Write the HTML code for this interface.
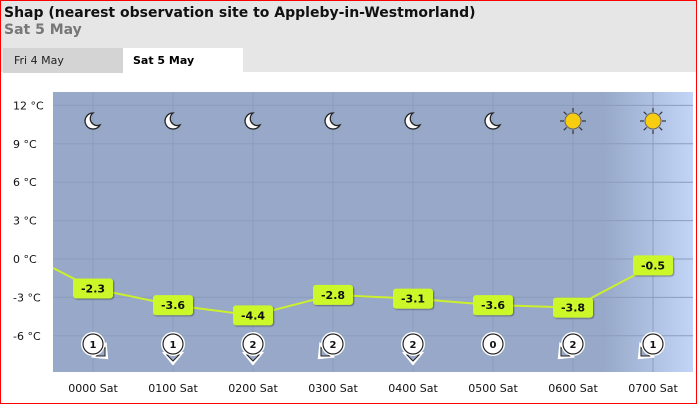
<!DOCTYPE html>
<html><head><meta charset="utf-8"><style>
body{margin:0;width:697px;height:404px;overflow:hidden;font-family:"Liberation Sans","DejaVu Sans",sans-serif;}
#wrap{position:absolute;left:0;top:0;width:695px;height:402px;border:1px solid #f00;background:#fff;}
#head{position:absolute;left:0;top:0;width:695px;height:71px;background:#e6e6e6;}
.t1{position:absolute;left:3px;top:4px;font-size:14px;font-weight:bold;color:#111;font-family:"DejaVu Sans",sans-serif;}
.t2{position:absolute;left:3px;top:21px;font-size:14px;font-weight:bold;color:#777;font-family:"DejaVu Sans",sans-serif;}
.tab{position:absolute;top:47px;height:25px;font-size:11px;line-height:25px;font-family:"DejaVu Sans",sans-serif;}
</style></head><body>
<div id="wrap">
<div id="head">
<div class="t1">Shap (nearest observation site to Appleby-in-Westmorland)</div>
<div class="t2">Sat 5 May</div>
<div class="tab" style="left:2px;width:120px;background:#d4d4d4;color:#222;"><span style="padding-left:11px">Fri 4 May</span></div>
<div class="tab" style="left:122px;width:120px;background:#fff;color:#000;font-weight:bold;"><span style="padding-left:10px">Sat 5 May</span></div>
</div>
<svg id="chart" width="697" height="404" style="position:absolute;left:-1px;top:-1px"></svg>
</div>
<script>
const hours=["0000 Sat","0100 Sat","0200 Sat","0300 Sat","0400 Sat","0500 Sat","0600 Sat","0700 Sat"];
const temps=[-2.3,-3.6,-4.4,-2.8,-3.1,-3.6,-3.8,-0.5];
const startTemp=-0.7;
const windSpeeds=[1,1,2,2,2,0,2,1];
const windDirs=[-45,0,0,45,0,null,45,45];
const icons=["moon","moon","moon","moon","moon","moon","sun","sun"];
const yTicks=[12,9,6,3,0,-3,-6];

const NS="http://www.w3.org/2000/svg";
const svg=document.getElementById('chart');
const L=53,R=693,T=92,B=372;
const x=i=>93+i*80;
const y=v=>259-v*12.8;
function mk(tag,attrs,parent){const e=document.createElementNS(NS,tag);for(const k in attrs)e.setAttribute(k,attrs[k]);(parent||svg).appendChild(e);return e;}
const defs=mk('defs',{});
defs.innerHTML='<linearGradient id="bg" x1="0" x2="1" y1="0" y2="0"><stop offset="0" stop-color="#97a8c8"/><stop offset="0.86" stop-color="#97a8c8"/><stop offset="1" stop-color="#c2d5f8"/></linearGradient><filter id="sh"><feDropShadow dx="1" dy="1" stdDeviation="0.8" flood-opacity="0.4"/></filter>';
const bg=mk('rect',{x:L,y:T,width:R-L,height:B-T,fill:'url(#bg)'});


yTicks.forEach(t=>{
  const g=mk('line',{x1:L,x2:R,y1:y(t),y2:y(t),stroke:'#8c9cbc','stroke-width':1});
  
  
  const tx=mk('text',{x:13,y:y(t)+4,'font-size':11,fill:'#111','font-family':'DejaVu Sans,sans-serif'});
  tx.textContent=t+' °C';
  
  
});
hours.forEach((h,i)=>{
  const g=mk('line',{x1:x(i),x2:x(i),y1:T,y2:B,stroke:'#8c9cbc','stroke-width':1});
  
  
  const tx=mk('text',{x:x(i),y:392,'font-size':11,fill:'#111','text-anchor':'middle','font-family':'DejaVu Sans,sans-serif'});
  tx.textContent=h;
  
  
});
let d='M'+L+' '+y(startTemp);
temps.forEach((v,i)=>d+=' L'+x(i)+' '+y(v));
const ln=mk('path',{d:d,fill:'none',stroke:'#ccf02c','stroke-width':2});


icons.forEach((ic,i)=>{
  const g=mk('g',{transform:`translate(${x(i)},121)`});
  
  
  if(ic==='moon'){
    mk('path',{d:'M0 -8 A8 8 0 1 0 7 4 A7 7 0 0 1 0 -8 Z',fill:'#fff',stroke:'#222','stroke-width':1.3},g);
  }else{
    for(let a=0;a<360;a+=45){const r=a*Math.PI/180;mk('line',{x1:Math.cos(r)*9,y1:Math.sin(r)*9,x2:Math.cos(r)*13,y2:Math.sin(r)*13,stroke:'#333','stroke-width':1.2},g);}
    mk('circle',{cx:0,cy:0,r:8,fill:'#f8cc10',stroke:'#666','stroke-width':1},g);
  }
});
temps.forEach((v,i)=>{
  const g=mk('g',{transform:`translate(${x(i)},${y(v)})`});
  
  
  mk('rect',{x:-20,y:-10,width:40,height:20,rx:3,fill:'#ccf82c',filter:'url(#sh)'},g);
  const t=mk('text',{x:0,y:4,'font-size':11,'font-weight':'bold','text-anchor':'middle',fill:'#111','font-family':'DejaVu Sans,sans-serif'},g);
  t.textContent=v.toFixed(1);
});
windSpeeds.forEach((s,i)=>{
  const g=mk('g',{transform:`translate(${x(i)},344)`});
  
  
  if(windDirs[i]!==null){
    const a=mk('g',{transform:`rotate(${windDirs[i]})`},g);
    mk('path',{d:'M-9 9 L9 9 L0 20 Z',fill:'#fff',stroke:'#fff','stroke-width':2},a);
    mk('path',{d:'M-6 11 L6 11 L0 17 Z',fill:'#98a8c8',stroke:'#222','stroke-width':1},a);
  }
  mk('circle',{cx:0,cy:0,r:12,fill:'#fff'},g);
  mk('circle',{cx:0,cy:0,r:10,fill:'#fff',stroke:'#222','stroke-width':1.2},g);
  const t=mk('text',{x:0,y:4,'font-size':10,'font-weight':'bold','text-anchor':'middle',fill:'#111','font-family':'DejaVu Sans,sans-serif'},g);
  t.textContent=s;
});
</script>
</body></html>
